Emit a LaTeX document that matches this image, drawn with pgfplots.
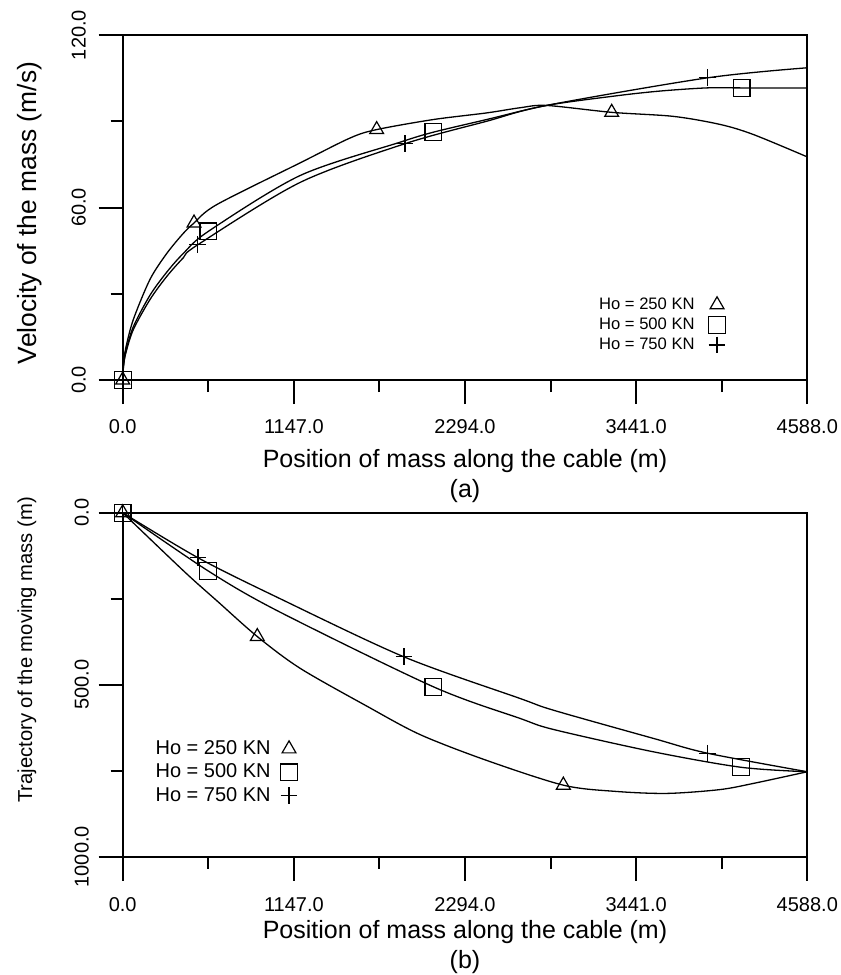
\documentclass[border=0pt]{standalone}
\usepackage{pgfplots}
\pgfplotsset{compat=1.18}
\usepackage{fontspec}
\setmainfont{Liberation Sans}

\tikzset{tl/.style={font=\fontsize{10}{12}\selectfont, inner sep=0pt, anchor=center}}

\pgfplotsset{
  cablestyle/.style={
    scale only axis,
    width=342.3pt,
    xmin=0, xmax=4588,
    axis line style={line width=1pt},
    clip=false,
    scaled ticks=false,
    tick align=outside,
    xtick pos=bottom, ytick pos=left,
    major tick length=12pt, minor tick length=6pt,
    every tick/.style={line width=1pt, black},
    xtick={0,1147,2294,3441,4588},
    minor xtick={573.5,1720.5,2867.5,4014.5},
    xticklabels={}, yticklabels={},
    xlabel style={font=\fontsize{12.5}{15}\selectfont, align=center,
      at={(axis description cs:0.5,0)}, anchor=north},
    legend plot pos=right,
    legend cell align=left,
  },
  curve/.style={black, line width=0.65pt, smooth, tension=0.5, forget plot},
  tri/.style={only marks, mark=triangle, mark size=4pt, black, mark options={line width=0.6pt}},
  sqr/.style={only marks, mark=square, mark size=4.2pt, black, mark options={line width=0.6pt}},
  crs/.style={only marks, mark=+, mark size=4.2pt, black, mark options={line width=0.6pt}},
}

\begin{document}
\begin{tikzpicture}
\useasboundingbox (0,0) rectangle (420.5pt,-487.5pt);

% (a) velocity of the mass
\begin{axis}[cablestyle,
  at={(61.35pt,-190pt)}, anchor=south west,
  height=172.5pt,
  ymin=0, ymax=120,
  ytick={0,60,120}, minor ytick={30,90},
  xlabel={Position of mass along the cable (m)\\(a)},
  xlabel style={yshift=-31pt},
  ylabel={Velocity of the mass (m/s)},
  ylabel style={font=\fontsize{13.2}{15}\selectfont,
    at={(axis description cs:-0.1354,0.484)}, anchor=center},
  legend image code/.code={\path (0pt,0pt); \draw[#1] plot coordinates {(9pt,0pt)};},
  legend style={draw=none, fill=none, inner sep=0pt, font=\fontsize{8.3}{10}\selectfont,
    row sep=-1.25pt,
    at={(axis description cs:0.6895,0.252)}, anchor=north west},
]
\addplot[curve] coordinates {
  (0,0) (5,5.6) (20,11) (71,21) (183,35) (295,44) (406,51) (478,54.6) (630,61)
  (1188,75.5) (1525,84.2) (1702,87.1) (2082,90.6) (2439,92.9) (2663,94.7)
  (2840,95.5) (3277,93.1) (3690,91.7) (4003,88.9) (4226,85.4) (4588,77.6)};
\addplot[curve] coordinates {
  (0,0) (5,4.8) (20,9.7) (71,18.5) (183,29.5) (295,37.5) (406,44) (574,51.7)
  (1188,71.1) (1858,82.7) (2082,86.2) (2439,90.6) (2840,95.5) (3300,98.8)
  (3600,100.5) (3913,101.6) (4148,101.6) (4588,101.6)};
\addplot[curve] coordinates {
  (0,0) (5,4.5) (20,9.2) (71,17.5) (183,28) (295,36) (406,42.5) (502,47)
  (1188,68.7) (1892,82.2) (2439,90.0) (2840,95.5) (3918,105.1) (4588,108.6)};
\addplot[tri] coordinates {(0,0) (478,54.6) (1702,87.1) (3277,93.1)};
\addlegendentry{Ho = 250 KN}
\addplot[sqr] coordinates {(0,0) (574,51.7) (2082,86.2) (4148,101.6)};
\addlegendentry{Ho = 500 KN}
\addplot[crs] coordinates {(0,0) (502,47) (1892,82.2) (3918,105.1)};
\addlegendentry{Ho = 750 KN}
% tick labels
\node[tl] at ([yshift=-23.35pt]axis cs:0,0) {0.0};
\node[tl] at ([yshift=-23.35pt]axis cs:1147,0) {1147.0};
\node[tl] at ([yshift=-23.35pt]axis cs:2294,0) {2294.0};
\node[tl] at ([yshift=-23.35pt]axis cs:3441,0) {3441.0};
\node[tl] at ([yshift=-23.35pt]axis cs:4588,0) {4588.0};
\node[tl, rotate=90] at ([xshift=-22pt]axis cs:0,0) {0.0};
\node[tl, rotate=90] at ([xshift=-22pt]axis cs:0,60) {60.0};
\node[tl, rotate=90] at ([xshift=-22pt]axis cs:0,120) {120.0};
\end{axis}

% (b) trajectory of the moving mass
\begin{axis}[cablestyle,
  at={(61.35pt,-428.35pt)}, anchor=south west,
  height=172pt,
  ymin=0, ymax=1000, y dir=reverse,
  ytick={0,500,1000}, minor ytick={250,750},
  xlabel={Position of mass along the cable (m)\\(b)},
  xlabel style={yshift=-28.5pt},
  ylabel={Trajectory of the moving mass (m)},
  ylabel style={font=\fontsize{10.1}{12}\selectfont,
    at={(axis description cs:-0.1398,0.601)}, anchor=center},
  legend image code/.code={\path (0pt,0pt); \draw[#1] plot coordinates {(7pt,0pt)};},
  legend style={draw=none, fill=none, inner sep=0pt, font=\fontsize{10}{12}\selectfont,
    row sep=-0.75pt,
    at={(axis description cs:0.0416,0.351)}, anchor=north west},
]
\addplot[curve] coordinates {
  (0,0) (415,172) (639,259) (902,360) (1188,452) (1635,562) (1993,645)
  (2439,720) (2953,792) (3300,810) (3646,816) (4000,805) (4226,787) (4588,753)};
\addplot[curve] coordinates {
  (0,0) (572,169) (1041,286) (2082,506) (2663,598) (2886,630)
  (3556,695) (4144,740) (4588,753)};
\addplot[curve] coordinates {
  (0,0) (505,131) (1041,247) (1885,419) (2663,540) (2886,574)
  (3556,656) (3918,699) (4588,753)};
\addplot[tri] coordinates {(0,0) (902,360) (2953,792)};
\addlegendentry{Ho = 250 KN}
\addplot[sqr] coordinates {(0,0) (572,169) (2082,506) (4144,740)};
\addlegendentry{Ho = 500 KN}
\addplot[crs] coordinates {(0,0) (505,131) (1885,419) (3918,699)};
\addlegendentry{Ho = 750 KN}
% tick labels
\node[tl] at ([yshift=-24.15pt]axis cs:0,1000) {0.0};
\node[tl] at ([yshift=-24.15pt]axis cs:1147,1000) {1147.0};
\node[tl] at ([yshift=-24.15pt]axis cs:2294,1000) {2294.0};
\node[tl] at ([yshift=-24.15pt]axis cs:3441,1000) {3441.0};
\node[tl] at ([yshift=-24.15pt]axis cs:4588,1000) {4588.0};
\node[tl, rotate=90] at ([xshift=-20.5pt]axis cs:0,0) {0.0};
\node[tl, rotate=90] at ([xshift=-20.5pt]axis cs:0,500) {500.0};
\node[tl, rotate=90] at ([xshift=-20.5pt]axis cs:0,1000) {1000.0};
\end{axis}
\end{tikzpicture}
\end{document}
